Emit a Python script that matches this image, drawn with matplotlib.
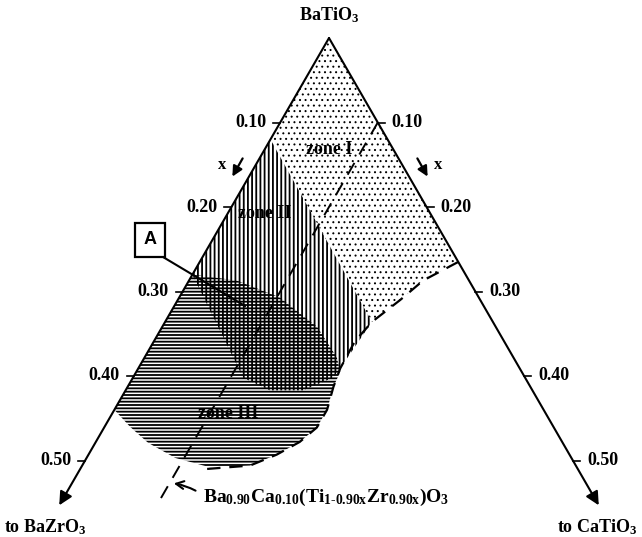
import matplotlib
matplotlib.use('Agg')
import matplotlib.pyplot as plt
from matplotlib.patches import Polygon

# compositions: z = fraction toward BaZrO3, c = fraction toward CaTiO3
tick_values = [0.10, 0.20, 0.30, 0.40, 0.50]

zone1_z = [0.0, 0.12, 0.124, 0.082, 0.047, 0.0]
zone1_c = [0.0, 0.0, 0.212, 0.228, 0.240, 0.265]

zone2_z = [0.12, 0.28, 0.289, 0.269, 0.235, 0.197, 0.184, 0.124]
zone2_c = [0.0, 0.0, 0.113, 0.148, 0.182, 0.205, 0.207, 0.212]

zone3_z = [0.28, 0.238, 0.204, 0.183, 0.181, 0.186, 0.202, 0.222, 0.243,
           0.269, 0.300, 0.334, 0.376, 0.406, 0.425, 0.434, 0.44]
zone3_c = [0.0, 0.049, 0.103, 0.159, 0.197, 0.209, 0.211, 0.218, 0.218,
           0.209, 0.193, 0.172, 0.132, 0.091, 0.054, 0.026, 0.0]

# dashed outline of the zones
bound_z = [0.0, 0.047, 0.082, 0.124, 0.153, 0.184, 0.202, 0.222, 0.243,
           0.269, 0.300, 0.334, 0.38]
bound_c = [0.265, 0.240, 0.228, 0.212, 0.206, 0.207, 0.211, 0.218, 0.218,
           0.209, 0.193, 0.172, 0.13]

# Ba0.90Ca0.10(Ti1-0.90xZr0.90x)O3 join
comp_c = 0.10
comp_z = [0.0, 0.45]

edge_len = 0.553

plt.rcParams['font.family'] = 'Liberation Serif'
plt.rcParams['font.weight'] = 'bold'
plt.rcParams['mathtext.fontset'] = 'custom'
plt.rcParams['mathtext.rm'] = 'Liberation Serif:bold'
plt.rcParams['mathtext.it'] = 'Liberation Serif:bold'
plt.rcParams['mathtext.bf'] = 'Liberation Serif:bold'
plt.rcParams['hatch.linewidth'] = 1.3

APEX_X, APEX_Y = 329, 38
W, H = 487.8, 845


def tern(z, c):
    return APEX_X + W * (c - z), APEX_Y + H * (z + c)


def tern_list(zs, cs):
    return [tern(z, c) for z, c in zip(zs, cs)]


fig = plt.figure(figsize=(6.42, 5.37), dpi=100)
ax = fig.add_axes([0, 0, 1, 1])
ax.set_xlim(0, 642)
ax.set_ylim(537, 0)
ax.axis('off')

# zones
dots = Polygon(tern_list(zone1_z, zone1_c), closed=True, facecolor='none',
               edgecolor='k', lw=0, hatch='...')
if hasattr(dots, 'set_hatch_linewidth'):
    dots.set_hatch_linewidth(0.7)
ax.add_patch(dots)
ax.add_patch(Polygon(tern_list(zone2_z, zone2_c), closed=True, facecolor='none',
                     edgecolor='k', lw=0, hatch='||||'))
ax.add_patch(Polygon(tern_list(zone3_z, zone3_c), closed=True, facecolor='none',
                     edgecolor='k', lw=0, hatch='-----'))

bx, by = zip(*tern_list(bound_z, bound_c))
ax.plot(bx, by, color='k', lw=1.6, ls=(0, (6, 4)))

cx, cy = zip(*tern_list(comp_z, [comp_c] * len(comp_z)))
ax.plot(cx, cy, color='k', lw=1.4, ls=(0, (7, 5)))

# triangle edges with arrows
apex = tern(0, 0)
for tip in (tern(edge_len, 0), tern(0, edge_len)):
    ax.annotate('', xy=tip, xytext=apex,
                arrowprops=dict(arrowstyle='-|>', lw=1.5, color='k',
                                mutation_scale=20, shrinkA=0, shrinkB=0))

# ticks
for t in tick_values:
    x, y = tern(t, 0)
    ax.plot([x - 7, x], [y, y], color='k', lw=1.2)
    ax.text(x - 14, y, f'{t:.2f}', ha='right', va='center', fontsize=13)
    x, y = tern(0, t)
    ax.plot([x, x + 7], [y, y], color='k', lw=1.2)
    ax.text(x + 14, y, f'{t:.2f}', ha='left', va='center', fontsize=13)

# x direction arrows
ax.annotate('', xy=(231, 179), xytext=(244, 156),
            arrowprops=dict(arrowstyle='-|>', lw=1.6, color='k', mutation_scale=15))
ax.text(222, 165, 'x', ha='center', va='center', fontsize=12)
ax.annotate('', xy=(429, 179), xytext=(416, 156),
            arrowprops=dict(arrowstyle='-|>', lw=1.6, color='k', mutation_scale=15))
ax.text(438, 165, 'x', ha='center', va='center', fontsize=12)

# labels
ax.text(329, 15, 'BaTiO$_3$', ha='center', va='center', fontsize=13)
ax.text(45, 527, 'to BaZrO$_3$', ha='center', va='center', fontsize=13)
ax.text(597, 527, 'to CaTiO$_3$', ha='center', va='center', fontsize=13)

ax.text(329, 150, 'zone I', ha='center', va='center', fontsize=13)
ax.text(265, 213, 'zone II', ha='center', va='center', fontsize=13)
ax.text(228, 414, 'zone III', ha='center', va='center', fontsize=13)

ax.text(203, 497, r'Ba$_{0.90}$Ca$_{0.10}$(Ti$_{1\text{-}0.90x}$Zr$_{0.90x}$)O$_3$',
        ha='left', va='center', fontsize=14)
ax.annotate('', xy=(171, 483), xytext=(198, 492),
            arrowprops=dict(arrowstyle='->', lw=1.5, color='k', mutation_scale=14,
                            connectionstyle='arc3,rad=0.1'))

# point A
ax.text(150, 240, 'A', ha='center', va='center', fontsize=13,
        family='Liberation Sans',
        bbox=dict(boxstyle='square,pad=0.45', fc='white', ec='k', lw=1.6))
ax.plot([163, 245], [257, 306], color='k', lw=1.5)

plt.savefig('out.png', dpi=100)
